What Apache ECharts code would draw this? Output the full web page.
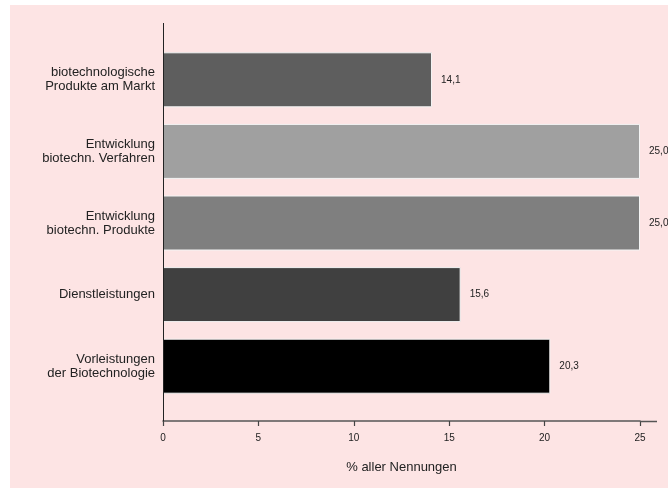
<!DOCTYPE html>
<html><head><meta charset="utf-8">
<script src="https://cdn.jsdelivr.net/npm/echarts@6/dist/echarts.min.js"></script>
<style>html,body{margin:0;padding:0;background:#fff}#c{width:668px;height:491px}</style>
</head><body><div id="c"></div>
<script>
var categories = ['biotechnologische\nProdukte am Markt','Entwicklung\nbiotechn. Verfahren','Entwicklung\nbiotechn. Produkte','Dienstleistungen','Vorleistungen\nder Biotechnologie'];
var values = [14.1, 25.0, 25.0, 15.6, 20.3];
var colors = ['#5e5e5e','#a0a0a0','#7f7f7f','#404040','#000000'];
var xTicks = [0,5,10,15,20,25];

var chart = echarts.init(document.getElementById('c'), null, {renderer:'canvas'});
chart.setOption({
  animation:false,
  backgroundColor:'#ffffff',
  graphic:[
    {type:'rect', z:-10, shape:{x:10,y:5,width:660,height:483}, style:{fill:'#fde4e4'}},
    {type:'line', z:10, shape:{x1:163.5,y1:23,x2:163.5,y2:421}, style:{stroke:'#222',lineWidth:1}},
    {type:'line', z:10, shape:{x1:640,y1:421.5,x2:657,y2:421.5}, style:{stroke:'#555',lineWidth:1.5}}
  ],
  grid:{left:163, right:28, top:44, bottom:89, containLabel:false},
  xAxis:{type:'value', min:0, max:25, interval:5, offset:19,
    axisLine:{show:true,lineStyle:{color:'#555',width:1.5}},
    axisTick:{show:true,length:5,inside:false,lineStyle:{color:'#444',width:1.2}},
    axisLabel:{fontFamily:'Liberation Sans',fontSize:10,color:'#222',margin:12},
    splitLine:{show:false},
    name:'% aller Nennungen', nameLocation:'middle', nameGap:40,
    nameTextStyle:{fontFamily:'Liberation Sans',fontSize:13,color:'#222'}},
  yAxis:{type:'category', data:categories, inverse:true,
    axisLine:{show:false}, axisTick:{show:false},
    axisLabel:{fontFamily:'Liberation Sans',fontSize:13,color:'#222',margin:8,lineHeight:14,align:'right'}},
  series:[{type:'bar', barWidth:55,
    data: values.map(function(v,i){return {value:v,itemStyle:{color:colors[i]}};}),
    itemStyle:{borderColor:'#f4f4f4',borderWidth:1},
    label:{show:true, position:'right', distance:9, fontFamily:'Liberation Sans', fontSize:10, color:'#222',
      formatter:function(p){return p.value.toFixed(1).replace('.',',');}}
  }]
});
</script></body></html>
